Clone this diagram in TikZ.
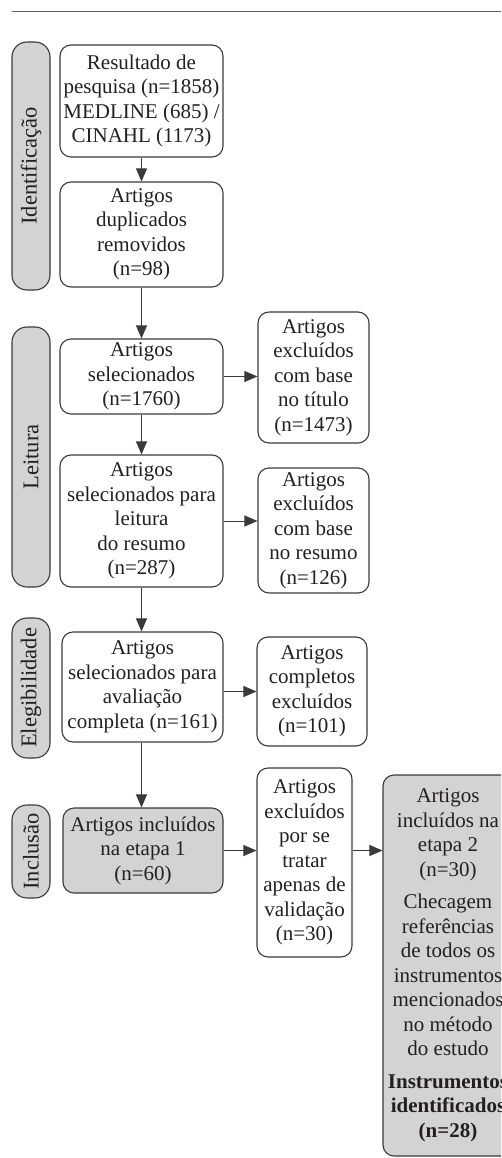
\documentclass[tikz,border=0pt]{standalone}
\usepackage{fontspec}
\setmainfont{Liberation Serif}
\usetikzlibrary{arrows.meta}
\definecolor{linec}{HTML}{3A3A3A}
\definecolor{txt}{HTML}{231F20}
\definecolor{fillg}{HTML}{D3D3D4}
\begin{document}
\begin{tikzpicture}[x=1pt,y=-1pt,
  box/.style={draw=linec, line width=1.1pt, rounded corners=11pt, align=center,
    inner sep=0pt, font=\fontsize{21}{24.5}\selectfont, text=txt},
  grayb/.style={box, fill=fillg},
  lab/.style={draw=linec, line width=1.1pt, rounded corners=15pt, fill=fillg,
    inner sep=0pt, minimum width=38pt},
  labtxt/.style={rotate=90, font=\fontsize{22.5}{26}\selectfont, text=txt, inner sep=0pt},
  arr/.style={draw=linec, line width=1pt, -{Triangle[length=13pt,width=11pt]}}]
\useasboundingbox (0,0) rectangle (501,1158);
\clip (0,0) rectangle (501,1158);
% top rule
\coordinate (r1) at (12,12);
\coordinate (r2) at (501,12);
\draw[draw=linec!80, line width=1pt] (r1) -- (r2);
% stage labels
\node[lab, minimum height=248pt] (Lid) at (31,166) {};
\node[labtxt] (Tid) at (Lid.center) {Identificação};
\node[lab, minimum height=260pt] (Lle) at (31,457) {};
\node[labtxt] (Tle) at (Lle.center) {Leitura};
\node[lab, minimum height=140pt] (Lel) at (31,688) {};
\node[labtxt] (Tel) at (Lel.center) {Elegibilidade};
\node[lab, minimum height=93pt] (Lin) at (31,851.5) {};
\node[labtxt] (Tin) at (Lin.center) {Inclusão};
% main column
\node[box, minimum width=163pt, minimum height=112pt] (res) at (141.5,101)
  {Resultado de\\pesquisa (n=1858)\\MEDLINE (685) /\\CINAHL (1173)};
\node[box, minimum width=163pt, minimum height=105pt] (dup) at (141.5,234.5)
  {Artigos\\duplicados\\removidos\\(n=98)};
\node[box, minimum width=163pt, minimum height=75pt] (sel) at (141.5,376.5)
  {Artigos\\selecionados\\(n=1760)};
\node[box, minimum width=163pt, minimum height=132pt] (lei) at (141.5,521)
  {Artigos\\selecionados para\\leitura\\do resumo\\(n=287)};
\node[box, minimum width=161pt, minimum height=110pt] (ava) at (142.5,687)
  {Artigos\\selecionados para\\avaliação\\completa (n=161)};
\node[grayb, minimum width=160pt, minimum height=85pt] (inc) at (143,850.5)
  {Artigos incluídos\\na etapa 1\\(n=60)};
% right column
\node[box, minimum width=111pt, minimum height=131pt] (ex1) at (313.5,377.5)
  {Artigos\\excluídos\\com base\\no título\\(n=1473)};
\node[box, minimum width=111pt, minimum height=125pt] (ex2) at (313.5,530.5)
  {Artigos\\excluídos\\com base\\no resumo\\(n=126)};
\node[box, minimum width=110pt, minimum height=109pt] (ex3) at (312,691.5)
  {Artigos\\completos\\excluídos\\(n=101)};
\node[box, minimum width=95pt, minimum height=189pt] (val) at (304.5,862.5)
  {Artigos\\excluídos\\por se\\tratar\\apenas de\\validação\\(n=30)};
\node[grayb, minimum width=130pt, minimum height=381pt] (fin) at (448,965.5)
  {Artigos\\incluídos na\\etapa 2\\(n=30)\\[8pt]Checagem\\referências\\de todos os\\instrumentos\\mencionados\\no método\\do estudo\\[8pt]\textbf{Instrumentos}\\\textbf{identificados}\\\textbf{(n=28)}};
% vertical arrows
\draw[arr] (res.south) -- (dup.north);
\draw[arr] (dup.south) -- (sel.north);
\draw[arr] (sel.south) -- (lei.north);
\draw[arr] (lei.south) -- (lei.south |- ava.north);
\draw[arr] (ava.south -| lei.south) -- (lei.south |- inc.north);
% horizontal arrows
\draw[arr] (sel.east) -- (sel.east -| ex1.west);
\draw[arr] (lei.east) -- (lei.east -| ex2.west);
\draw[arr] (ex3.west -| ava.east) -- (ex3.west);
\draw[arr] (inc.east) -- (inc.east -| val.west);
\draw[arr] (inc.east -| val.east) -- (inc.east -| fin.west);
\end{tikzpicture}
\end{document}
